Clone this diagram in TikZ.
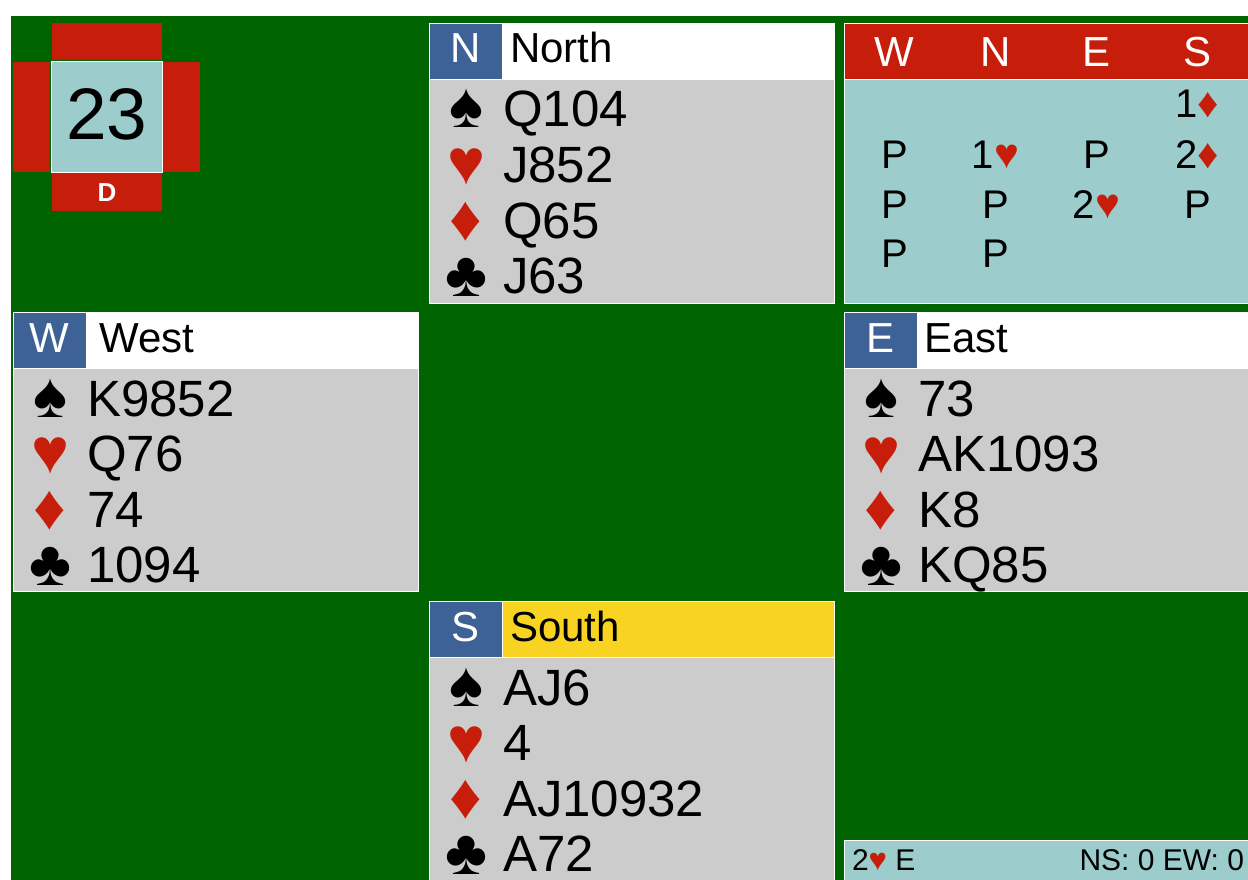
\documentclass[tikz,border=0pt]{standalone}
\usepackage{fontspec}
\setmainfont{Liberation Sans}
\definecolor{felt}{RGB}{0,100,0}
\definecolor{vul}{RGB}{198,30,10}
\definecolor{lblue}{RGB}{156,204,204}
\definecolor{cardgrey}{RGB}{204,204,204}
\definecolor{badgeblue}{RGB}{63,98,150}
\definecolor{southyellow}{RGB}{248,211,34}
\definecolor{suitred}{RGB}{198,30,10}
\newcommand{\setfs}[1]{\fontsize{#1pt}{#1pt}\selectfont}
\newcommand{\rsuit}[2]{{\color{suitred}\setfs{#1}#2}}
% header: id, x, y, letter, name, name fill, name x
\newcommand{\handhead}[7]{%
  \node[box, fill=#6, minimum width=405pt, minimum height=56pt] (#1-head) at (#2,#3) {};
  \node[box, fill=badgeblue, minimum width=73pt, minimum height=56pt] (#1-badge) at (#2,#3) {};
  \node[txt, anchor=base, white, font=\setfs{42}] (#1-letter) at ({#2+36.5},{#3+40}) {#4};
  \node[txt, anchor=base west, font=\setfs{42}] (#1-name) at (#7,{#3+40}) {#5};
}
% cards: id, x, y(body top), height, S, H, D, C
\newcommand{\handcards}[8]{%
  \node[box, fill=cardgrey, minimum width=405pt, minimum height=#4pt] (#1-body) at (#2,#3) {};
  \node[txt, anchor=base, font=\suitfs] (#1-ss) at ({#2+37},{#3+49}) {♠};
  \node[txt, anchor=base, font=\suitfs, suitred] (#1-hs) at ({#2+37},{#3+105}) {♥};
  \node[txt, anchor=base, font=\suitfs, suitred] (#1-ds) at ({#2+37},{#3+161}) {♦};
  \node[txt, anchor=base, font=\suitfs] (#1-cs) at ({#2+37},{#3+217}) {♣};
  \node[txt, anchor=base west, font=\setfs{51}] (#1-sc) at ({#2+74},{#3+48}) {#5};
  \node[txt, anchor=base west, font=\setfs{51}] (#1-hc) at ({#2+74},{#3+103.5}) {#6};
  \node[txt, anchor=base west, font=\setfs{51}] (#1-dc) at ({#2+74},{#3+159}) {#7};
  \node[txt, anchor=base west, font=\setfs{51}] (#1-cc) at ({#2+74},{#3+214.5}) {#8};
}
\newcommand{\suitfs}{\setfs{64}}
\begin{document}
\begin{tikzpicture}[x=1pt,y=-1pt,
  box/.style={rectangle, anchor=north west, inner sep=0pt, outer sep=0pt, draw=white, line width=0.8pt},
  plain/.style={box, draw=none},
  txt/.style={inner sep=0pt, outer sep=0pt}]
\useasboundingbox (0,0) rectangle (1248,880);
\fill[white] (0,0) rectangle (1248,880);
\node[plain, fill=felt, minimum width=1237pt, minimum height=864pt] (table) at (11,16) {};
% board number
\node[plain, fill=vul, minimum width=110pt, minimum height=37pt] (vn) at (52,23) {};
\node[plain, fill=vul, minimum width=37pt, minimum height=110pt] (vw) at (13,62) {};
\node[plain, fill=vul, minimum width=37pt, minimum height=110pt] (ve) at (163,62) {};
\node[plain, fill=vul, minimum width=110pt, minimum height=38pt] (vs) at (52,173) {};
\node[box, fill=lblue, minimum width=111pt, minimum height=111pt] (bnum) at (51.5,61.5) {};
\node[txt, anchor=base, font=\setfs{73}] (num) at (107,140) {23};
\node[txt, anchor=base, white, font=\setfs{26}\bfseries] (dlr) at (107,201) {D};
% hands
\handhead{N}{429}{23}{N}{North}{white}{510}
\handcards{N}{429}{79}{224}{Q104}{J852}{Q65}{J63}
\handhead{W}{13}{312}{W}{West}{white}{99.5}
\handcards{W}{13}{368}{223}{K9852}{Q76}{74}{1094}
\handhead{E}{844}{312}{E}{East}{white}{924.5}
\handcards{E}{844}{368}{223}{73}{AK1093}{K8}{KQ85}
\handhead{S}{429}{601}{S}{South}{southyellow}{510}
\handcards{S}{429}{657}{224}{AJ6}{4}{AJ10932}{A72}
% bidding
\node[box, fill=vul, minimum width=405pt, minimum height=56pt] (bidhead) at (844,23) {};
\node[box, fill=lblue, minimum width=405pt, minimum height=224pt] (bidbody) at (844,79) {};
\begin{scope}[every node/.style={txt, anchor=base, font=\setfs{42}, white}]
\node (hw) at (894.5,67) {W};
\node (hn) at (995.5,67) {N};
\node (he) at (1096.5,67) {E};
\node (hs) at (1197.5,67) {S};
\end{scope}
\begin{scope}[every node/.style={txt, anchor=base, font=\setfs{40}}]
\node (b1) at (1197.5,118) {1\rsuit{42}{♦}};
\node (b2) at (894.5,168) {P};
\node (b3) at (995.5,168) {1\rsuit{42}{♥}};
\node (b4) at (1096.5,168) {P};
\node (b5) at (1197.5,168) {2\rsuit{42}{♦}};
\node (b6) at (894.5,218) {P};
\node (b7) at (995.5,218) {P};
\node (b8) at (1096.5,218) {2\rsuit{42}{♥}};
\node (b9) at (1197.5,218) {P};
\node (b10) at (894.5,267) {P};
\node (b11) at (995.5,267) {P};
\end{scope}
% result bar
\node[box, fill=lblue, minimum width=405pt, minimum height=41pt] (result) at (844,840) {};
\node[txt, anchor=base west, font=\setfs{30}] (contract) at (852,870) {2\rsuit{31}{♥} E};
\node[txt, anchor=base east, font=\setfs{30}] (score) at (1244,870) {NS: 0 EW: 0};
\end{tikzpicture}
\end{document}
